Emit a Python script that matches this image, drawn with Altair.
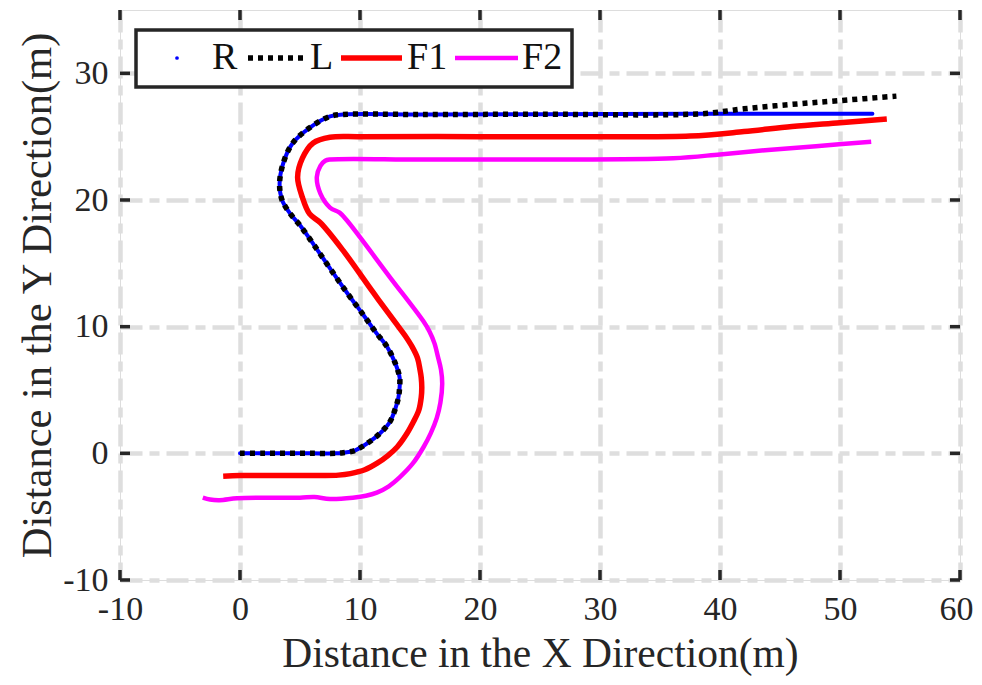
import altair as alt
import pandas as pd

# ---- data ----
l_x = [0, 2, 4, 6, 8, 8.6, 9.5, 10.3, 11.2, 11.9, 12.5, 12.9, 13.2, 13.3, 13.3, 12.9, 12.2, 11.4,
       10.3, 8.9, 7.5, 6.2, 5.0, 4.2, 3.5, 3.3, 3.6, 4.4, 5.8, 7.5, 8.6, 15, 25, 38.3, 42, 46, 50, 54.7]
l_y = [0, 0, 0, 0, 0, 0.05, 0.2, 0.6, 1.2, 1.8, 2.5, 3.4, 4.4, 5.2, 6.0, 7.2, 8.5, 9.45,
       10.9, 12.7, 14.6, 16.4, 18.0, 18.9, 20.0, 21.3, 22.9, 24.5, 25.7, 26.6, 26.75, 26.75, 26.77,
       26.8, 27.2, 27.55, 27.85, 28.2]

r_x = [0, 2, 4, 6, 8, 8.6, 9.5, 10.3, 11.2, 11.9, 12.5, 12.9, 13.2, 13.3, 13.3, 12.9, 12.2, 11.4,
       10.3, 8.9, 7.5, 6.2, 5.0, 4.2, 3.5, 3.3, 3.6, 4.4, 5.8, 7.5, 8.6, 15, 25, 38.3, 45, 52.7]
r_y = [0, 0, 0, 0, 0, 0.05, 0.2, 0.6, 1.2, 1.8, 2.5, 3.4, 4.4, 5.2, 6.0, 7.2, 8.5, 9.45,
       10.9, 12.7, 14.6, 16.4, 18.0, 18.9, 20.0, 21.3, 22.9, 24.5, 25.7, 26.6, 26.75, 26.75, 26.77,
       26.8, 26.8, 26.8]

f1_x = [-1.4, 0, 3, 6.7, 8.2, 9.2, 10.4, 11.4, 12.3, 13.1, 13.8, 14.4, 14.9, 15.1, 15.15, 15.1,
        15.0, 14.8, 14.35, 13.75, 13.05, 11.1, 8.6, 6.7, 5.8, 5.2, 4.8, 5.2, 6.1, 7.5, 10, 20, 30,
        37.5, 42, 46, 50, 53.9]
f1_y = [-1.8, -1.75, -1.75, -1.75, -1.72, -1.6, -1.3, -0.8, -0.2, 0.5, 1.4, 2.4, 3.4, 4.4, 5.2, 6.0,
        6.6, 7.5, 8.4, 9.3, 10.2, 12.7, 16.0, 18.2, 18.9, 20.2, 21.8, 23.3, 24.5, 24.95, 25.0, 25.0,
        25.0, 25.05, 25.4, 25.8, 26.1, 26.4]

f2_x = [-3.1, -2.5, -1.7, -0.25, 2, 5, 6.2, 7.5, 9.4, 10.5, 11.4, 12.4, 13.3, 14.4, 15.3, 15.9,
        16.4, 16.7, 16.85, 16.75, 16.5, 16.2, 15.8, 15.3, 12.5, 8.9, 8.3, 7.5, 6.7, 6.4, 6.7, 7.1,
        7.5, 15, 25, 36.1, 40, 44, 48, 52.6]
f2_y = [-3.5, -3.65, -3.7, -3.55, -3.5, -3.5, -3.45, -3.6, -3.5, -3.35, -3.1, -2.6, -1.9, -0.8, 0.5,
        1.6, 2.8, 4.0, 5.5, 6.6, 7.6, 8.7, 9.6, 10.4, 13.9, 18.4, 19.0, 19.4, 20.5, 21.8, 22.7, 23.1,
        23.2, 23.2, 23.2, 23.3, 23.6, 23.95, 24.25, 24.6]

series_names = ["R", "L", "F1", "F2"]
series_colors = ["#0000ff", "#000000", "#ff0000", "#ff00ff"]
x_ticks = [-10, 0, 10, 20, 30, 40, 50, 60]
y_ticks = [-10, 0, 10, 20, 30]

W, H = 840, 570
FONT = "Liberation Serif"
FRAME = "#262626"


def frame(name, xs, ys):
    return pd.DataFrame({"x": xs, "y": ys, "series": name, "i": list(range(len(xs)))})


xscale = alt.Scale(domain=[-10, 60], nice=False, zero=False)
yscale = alt.Scale(domain=[-10, 35], nice=False, zero=False)
grid_dash = [22, 7, 10, 7]
common_axis = dict(domain=False, ticks=False, grid=True, gridColor="#dedede", gridWidth=4.5,
                   gridDash=grid_dash, labelFont=FONT, labelFontSize=34, labelColor="#262626",
                   titleFont=FONT, titleFontWeight="normal", titleColor="#262626",
                   labelFlush=False, labelExpr="'' + datum.value")
xaxis = alt.Axis(values=x_ticks, title="Distance in the X Direction(m)", labelPadding=12,
                 titlePadding=7, titleFontSize=41.5,
                 labelOffset={"condition": {"test": "datum.value == 60", "value": -4}, "value": 0},
                 **common_axis)
yaxis = alt.Axis(values=y_ticks, title="Distance in the Y Direction(m)", labelPadding=12,
                 titlePadding=3, titleFontSize=42.5, **common_axis)

X = alt.X("x:Q", scale=xscale, axis=xaxis)
Y = alt.Y("y:Q", scale=yscale, axis=yaxis)
color = alt.Color("series:N", scale=alt.Scale(domain=series_names, range=series_colors), legend=None)


def line(df, **kw):
    return alt.Chart(df).mark_line(interpolate="catmull-rom", **kw).encode(
        x=X, y=Y, color=color, order=alt.Order("i:Q"))


layers = [
    line(frame("F2", f2_x, f2_y), strokeWidth=4.5, strokeCap="butt"),
    line(frame("F1", f1_x, f1_y), strokeWidth=5.5, strokeCap="butt"),
    line(frame("R", r_x, r_y), strokeWidth=4, strokeCap="round"),
    line(frame("L", l_x, l_y), strokeWidth=5.5, strokeDash=[5, 5], strokeCap="butt"),
]

# inward ticks on all four sides (MATLAB style)
xt = pd.DataFrame({"x": x_ticks})
yt = pd.DataFrame({"y": y_ticks})
TL = 10
tick_kw = dict(color=FRAME, strokeWidth=3.5)
ticks = [
    alt.Chart(xt).mark_rule(**tick_kw).encode(x=X, y=alt.value(H), y2=alt.value(H - TL)),
    alt.Chart(xt).mark_rule(**tick_kw).encode(x=X, y=alt.value(0), y2=alt.value(TL)),
    alt.Chart(yt).mark_rule(**tick_kw).encode(y=Y, x=alt.value(0), x2=alt.value(TL)),
    alt.Chart(yt).mark_rule(**tick_kw).encode(y=Y, x=alt.value(W), x2=alt.value(W - TL)),
]

# legend box (horizontal, top-left), built from the series lists
one = pd.DataFrame({"k": [0]})
LEG_L, LEG_R, LEG_T, LEG_B = 16, 452, 20, 77
LEG_MID = 48
sym_x0 = [None, 128, 221, 335]
sym_x1 = [None, 185, 282, 398]
lab_x = [92, 190, 287, 402]
legend_layers = [
    alt.Chart(one).mark_rect(fill="white", stroke=FRAME, strokeWidth=3.5).encode(
        x=alt.value(LEG_L), x2=alt.value(LEG_R), y=alt.value(LEG_T), y2=alt.value(LEG_B)),
    alt.Chart(one).mark_circle(color=series_colors[0], size=14, opacity=1).encode(
        x=alt.value(57), y=alt.value(LEG_MID)),
    alt.Chart(one).mark_rule(color=series_colors[1], strokeWidth=5.5, strokeDash=[5, 5]).encode(
        x=alt.value(sym_x0[1]), x2=alt.value(sym_x1[1]), y=alt.value(LEG_MID)),
    alt.Chart(one).mark_rule(color=series_colors[2], strokeWidth=5.5).encode(
        x=alt.value(sym_x0[2]), x2=alt.value(sym_x1[2]), y=alt.value(LEG_MID)),
    alt.Chart(one).mark_rule(color=series_colors[3], strokeWidth=4.5).encode(
        x=alt.value(sym_x0[3]), x2=alt.value(sym_x1[3]), y=alt.value(LEG_MID)),
]
for name, lx in zip(series_names, lab_x):
    legend_layers.append(
        alt.Chart(one).mark_text(text=name, font=FONT, fontSize=38, color="#111111",
                                 align="left", baseline="alphabetic").encode(
            x=alt.value(lx), y=alt.value(LEG_MID + 11)))

chart = alt.layer(*layers, *ticks, *legend_layers).properties(
    width=W, height=H,
    autosize=alt.AutoSizeParams(type="none"),
    padding={"left": 112, "top": 2, "right": 14, "bottom": 97},
).configure_view(stroke=FRAME, strokeWidth=3.5).configure(background="white")

chart.save("out.html", embed_options={"renderer": "svg", "actions": False})
